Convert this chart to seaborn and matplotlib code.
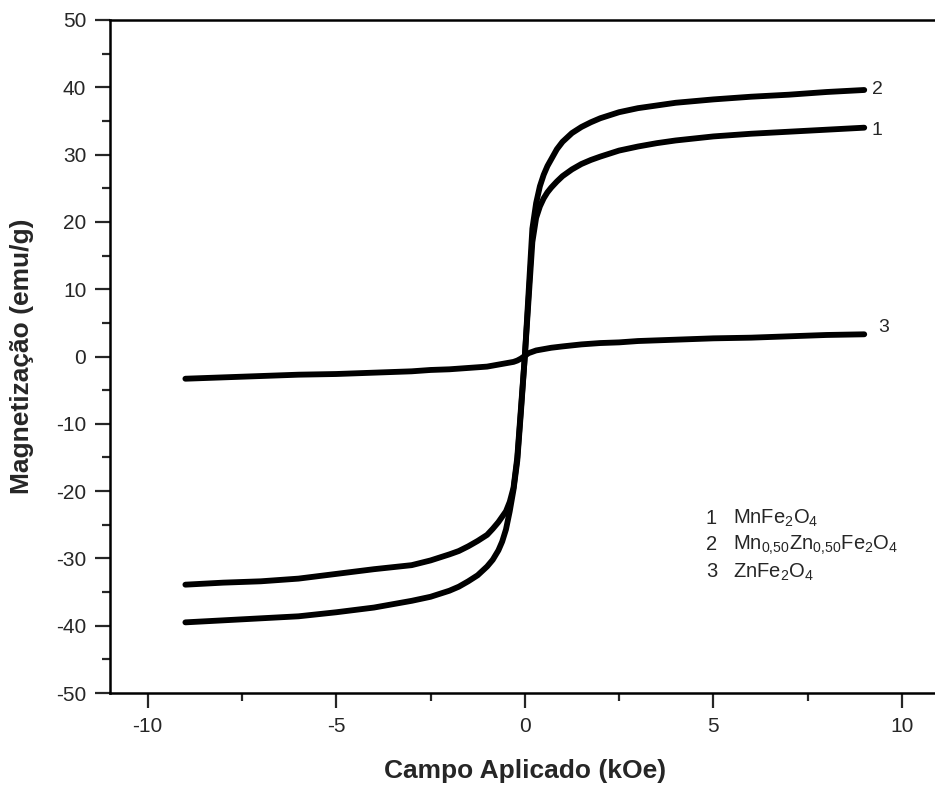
import numpy as np
import pandas as pd
import matplotlib
matplotlib.use("Agg")
import matplotlib.pyplot as plt
import seaborn as sns
from matplotlib.ticker import AutoMinorLocator, MultipleLocator

# campo aplicado (kOe), same grid for the three samples
campo = [-9, -8, -7, -6, -5, -4, -3.5, -3, -2.5, -2, -1.75, -1.5, -1.25, -1, -0.85,
         -0.7, -0.6, -0.5, -0.4, -0.3, -0.2, -0.1, 0, 0.1, 0.2, 0.3, 0.4, 0.5, 0.6,
         0.7, 0.85, 1, 1.25, 1.5, 1.75, 2, 2.5, 3, 3.5, 4, 5, 6, 7, 8, 9]

# magnetizacao (emu/g)
m_mnfe = [-33.9, -33.6, -33.4, -33.0, -32.3, -31.6, -31.3, -31.0, -30.3, -29.4, -28.9,
          -28.2, -27.4, -26.5, -25.6, -24.6, -23.8, -23.0, -21.6, -19.5, -15.0, -7.5,
          0.0, 8.5, 17.0, 20.6, 22.3, 23.5, 24.4, 25.1, 26.0, 26.8, 27.8, 28.6, 29.2,
          29.7, 30.6, 31.2, 31.7, 32.1, 32.7, 33.1, 33.4, 33.7, 34.0]
m_mnzn = [-39.5, -39.2, -38.9, -38.6, -38.0, -37.3, -36.8, -36.3, -35.7, -34.8, -34.2,
          -33.4, -32.5, -31.2, -30.2, -28.8, -27.5, -25.7, -23.0, -19.8, -15.5, -8.0,
          0.0, 9.5, 19.0, 22.8, 25.3, 27.0, 28.3, 29.3, 30.8, 31.9, 33.2, 34.1, 34.8,
          35.4, 36.3, 36.9, 37.3, 37.7, 38.2, 38.6, 38.9, 39.3, 39.6]
m_znfe = [-3.3, -3.1, -2.9, -2.7, -2.6, -2.4, -2.3, -2.2, -2.0, -1.9, -1.8, -1.7, -1.6,
          -1.5, -1.35, -1.2, -1.1, -1.0, -0.9, -0.8, -0.6, -0.3, 0.1, 0.5, 0.7, 0.9,
          1.0, 1.1, 1.2, 1.3, 1.4, 1.5, 1.65, 1.8, 1.9, 2.0, 2.1, 2.3, 2.4, 2.5, 2.7,
          2.8, 3.0, 3.2, 3.3]

amostras = ["1", "2", "3"]
nomes = [r"MnFe$_2$O$_4$",
         r"Mn$_{0{,}50}$Zn$_{0{,}50}$Fe$_2$O$_4$",
         r"ZnFe$_2$O$_4$"]

df = pd.DataFrame({
    "H": campo * 3,
    "M": m_mnfe + m_mnzn + m_znfe,
    "amostra": ["1"] * len(campo) + ["2"] * len(campo) + ["3"] * len(campo),
})

sns.set_style("ticks")
plt.rcParams["font.family"] = ["Liberation Sans", "DejaVu Sans"]
plt.rcParams["mathtext.default"] = "regular"
plt.rcParams["axes.unicode_minus"] = False

fig = plt.figure(figsize=(9.35, 7.87), dpi=100)
ax = fig.add_axes([0.1176, 0.1194, 0.8874, 0.8552])

sns.lineplot(data=df, x="H", y="M", units="amostra", estimator=None,
             color="black", linewidth=4.2, sort=False, ax=ax,
             solid_capstyle="round", solid_joinstyle="round")

ax.set_xlim(-11, 11)
ax.set_ylim(-50, 50)
ax.xaxis.set_major_locator(MultipleLocator(5))
ax.yaxis.set_major_locator(MultipleLocator(10))
ax.xaxis.set_minor_locator(AutoMinorLocator(2))
ax.yaxis.set_minor_locator(AutoMinorLocator(2))
ax.tick_params(which="major", direction="out", length=11, width=1.6, labelsize=15, pad=6)
ax.tick_params(which="minor", direction="out", length=5.5, width=1.6)
for s in ax.spines.values():
    s.set_linewidth(1.8)
    s.set_color("black")

ax.set_xlabel("Campo Aplicado (kOe)", fontsize=19, fontweight="bold", labelpad=17)
ax.set_ylabel("Magnetização (emu/g)", fontsize=19, fontweight="bold")
ax.yaxis.set_label_coords(-0.092, 0.5)

# numbers at the end of each curve
ax.text(9.36, 39.7, "2", fontsize=14, va="center", ha="center")
ax.text(9.34, 33.6, "1", fontsize=14, va="center", ha="center")
ax.text(9.52, 4.3, "3", fontsize=14, va="center", ha="center")

# legend written as text
for i, (num, nome) in enumerate(zip(amostras, nomes)):
    y = -24.0 - 4.0 * i
    ax.text(4.8, y, num, fontsize=14.5, va="center", ha="left")
    ax.text(5.52, y, nome, fontsize=14.5, va="center", ha="left")

fig.savefig("out.png", dpi=100)
